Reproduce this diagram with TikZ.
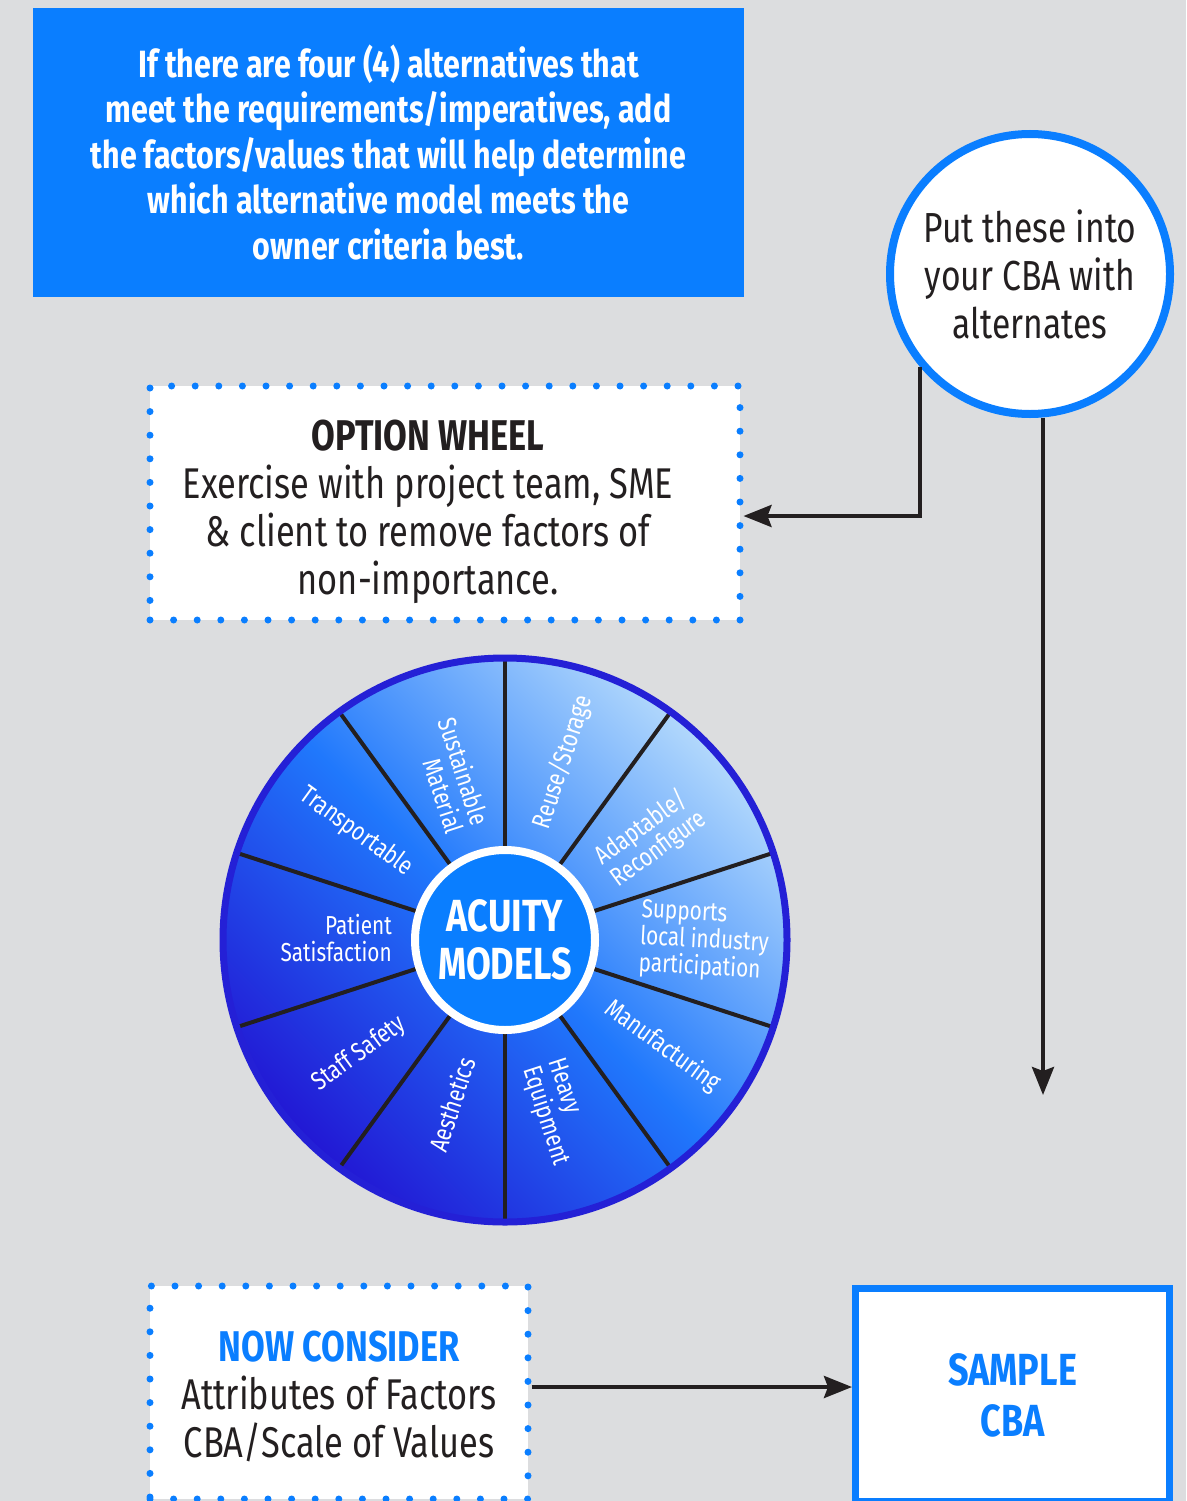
\documentclass[tikz,border=0pt]{standalone}
\usepackage{fontspec}
\setmainfont[FakeStretch=0.8]{Fira Sans}
\usetikzlibrary{arrows.meta}

\definecolor{pagegray}{RGB}{220,221,223}
\definecolor{cbablue}{RGB}{10,126,255}
\definecolor{rimblue}{RGB}{36,32,214}
\definecolor{wheellight}{RGB}{178,216,252}
\definecolor{wheelmid}{RGB}{32,120,252}
\definecolor{wheeldark}{RGB}{34,24,212}
\definecolor{inkblack}{RGB}{35,31,32}

\begin{document}
\begin{tikzpicture}[x=1pt,y=1pt,>={Stealth[length=28pt,width=22pt,inset=4pt]},
    conn/.style={->,draw=inkblack,line width=4pt},
    introbox/.style={fill=cbablue,text=white,minimum width=711pt,minimum height=289pt,
      inner sep=0pt,align=center,font=\bfseries\fontsize{38}{45.5}\selectfont},
    dotbox/.style={fill=white,draw=cbablue,line width=7pt,line cap=round,
      dash pattern=on 0pt off 23.6pt,inner sep=0pt},
    boxtext/.style={inner sep=0pt,align=center,text=inkblack,font=\fontsize{43}{48}\selectfont},
    cbacircle/.style={circle,fill=white,draw=cbablue,line width=8pt,minimum size=280pt,
      inner sep=0pt,align=center,text=inkblack,font=\fontsize{42}{48}\selectfont},
    samplebox/.style={fill=white,draw=cbablue,line width=7pt,minimum width=314pt,
      minimum height=213pt,align=center,text=cbablue,font=\bfseries\fontsize{45}{51}\selectfont},
    hub/.style={circle,fill=cbablue,draw=white,line width=8pt,minimum size=180pt,
      inner sep=0pt,align=center,text=white,font=\bfseries\fontsize{45}{48}\selectfont},
    spoke/.style={draw=inkblack,line width=4pt},
    factor/.style={text=white,inner sep=0pt,font=\fontsize{26}{27}\selectfont}]

  \useasboundingbox[fill=pagegray] (0,0) rectangle (1186,-1501);

  \node[introbox] (intro) at (388.5,-152.5)
    {If there are four (4) alternatives that\\meet the requirements/imperatives, add\\
     the factors/values that will help determine\\which alternative model meets the\\owner criteria best.};
  \node[cbacircle] (cba) at (1030,-274) {Put these into\\your CBA with\\alternates};
  \node[dotbox,minimum width=590pt,minimum height=234pt] (option) at (445,-503) {};
  \node[boxtext] (optiontext) at ([xshift=-17pt,yshift=-9pt]option.center)
    {{\bfseries OPTION WHEEL}\\Exercise with project team, SME\\\& client to remove factors of\\non-importance.};

  % option wheel
  \begin{scope}[shift={(505,-940)}]
    \shade[bottom color=wheeldark,top color=wheellight,middle color=wheelmid,shading angle=-45]
      (0,0) circle (282);
    \foreach \a in {18,54,...,342}
      \draw[spoke] (0,0) -- (\a:282);
    \draw[rimblue,line width=7pt] (0,0) circle (282);
    \node[hub] (hub) at (0,0) {ACUITY\\MODELS};

    \node[factor,rotate=72] (reuse) at (72:187) {Reuse/Storage};
    \node[factor,rotate=36,align=left] (adapt) at (35:178) {Adaptable/\\Reconfigure};
    \node[factor,rotate=-3,align=left,anchor=west] (local) at (135,2)
      {Supports\\local industry\\participation};
    \node[factor,rotate=-36] (manuf) at (-34:190) {Manufacturing};
    \node[factor,rotate=-72,align=left] (heavy) at (-73:180) {Heavy\\Equipment};
    \node[factor,rotate=72] (aesth) at (-108:173) {Aesthetics};
    \node[factor,rotate=36] (staff) at (-142:185) {Staff Safety};
    \node[factor,align=right,anchor=east] (patient) at (-113,2) {Patient\\Satisfaction};
    \node[factor,rotate=-36] (transp) at (144:184) {Transportable};
    \node[factor,rotate=-72,align=right] (sustain) at (108:173) {Sustainable\\Material};
  \end{scope}

  \node[dotbox,minimum width=378pt,minimum height=213pt] (now) at (339,-1392.5) {};
  \node[boxtext] (nowtext) at ([yshift=-4pt]now.center)
    {{\bfseries\color{cbablue}NOW CONSIDER}\\Attributes of Factors\\CBA/Scale of Values};
  \node[samplebox] (sample) at (1012.5,-1395) {SAMPLE\\CBA};

  \coordinate (cbaend) at (1043,-1095);
  \coordinate (nowout) at ([yshift=5.5pt]now.east);

  \draw[conn] (cba.220) |- ([yshift=-13pt]option.east);
  \draw[conn] ([xshift=13pt]cba.south) -- (cbaend);
  \draw[conn] (nowout) -- (nowout -| sample.west);

\end{tikzpicture}
\end{document}
